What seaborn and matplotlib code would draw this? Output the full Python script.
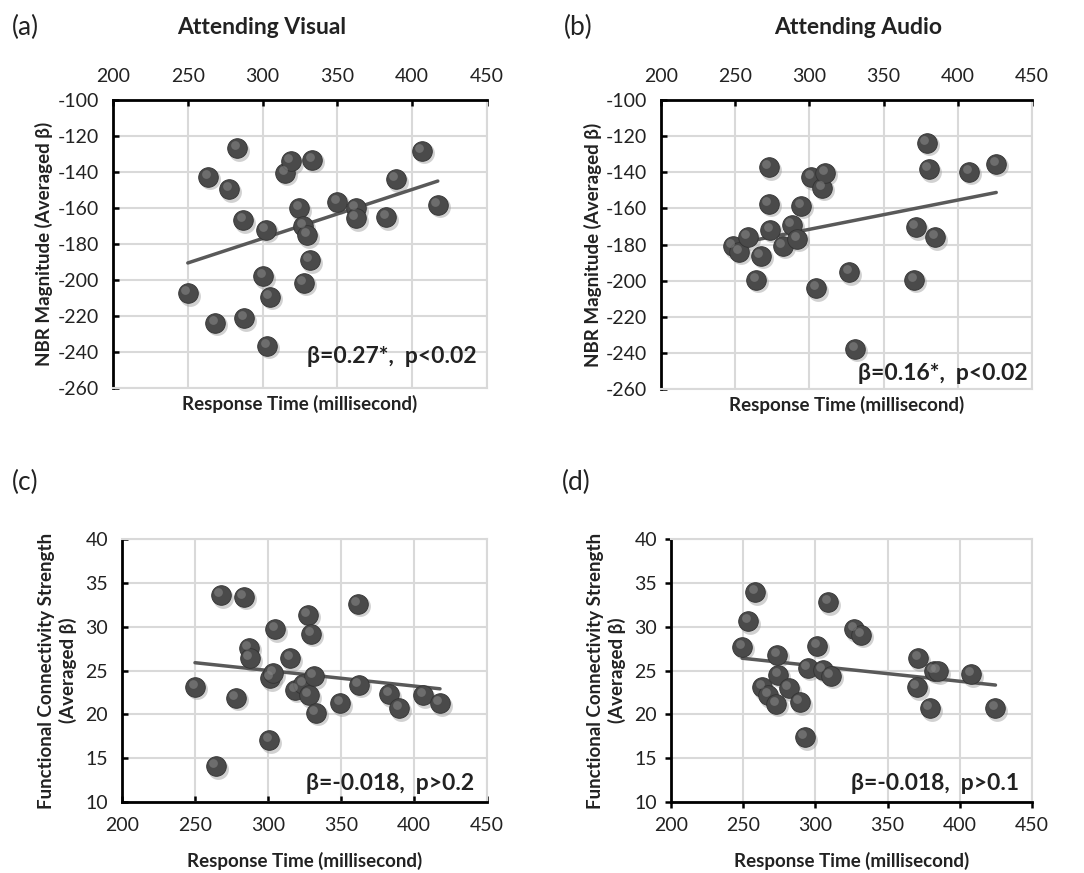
import numpy as np
import pandas as pd
import matplotlib
matplotlib.use("Agg")
import matplotlib.pyplot as plt
import matplotlib.transforms as mtransforms
import seaborn as sns

# ================================
# DATA
# ================================
rt_visual = [250, 263.6, 268.2, 277.6, 283.1, 287.1, 287.8, 300.4, 302, 303.1,
             304.9, 315.3, 318.7, 324.4, 327.1, 327.6, 330, 331.6, 333.1, 350,
             362.2, 362.2, 382.7, 388.9, 406.4, 417.1]
nbr_visual = [-207.4, -142.6, -223.7, -149.6, -126.7, -166.7, -221.3, -198, -172.2, -236.5,
              -209.3, -140.4, -134, -160, -169.8, -201.5, -175, -188.9, -133.3, -156.5,
              -160.2, -165.7, -165.2, -144, -128.3, -158.3]

rt_audio = [248.4, 252.7, 258.3, 264.2, 267.1, 272.7, 272.7, 273.6, 282.1, 288.1,
            291.9, 294.4, 301.2, 304.5, 308.8, 310.8, 326.8, 330.8, 370.6, 371.7,
            379.1, 380.5, 384.7, 407.7, 425.9]
nbr_audio = [-181.1, -184.0, -176.1, -199.5, -186.3, -137.2, -157.5, -171.9, -180.7, -169.1,
             -176.7, -158.6, -142.9, -204.1, -148.5, -140.2, -195.3, -237.7, -199.5, -170.4,
             -123.6, -138.3, -175.9, -139.6, -135.4]

rt_fc_visual = [250, 264.3, 267.7, 277.8, 283.5, 286.9, 287.4, 300.9, 301.4, 303.6,
                304.8, 315.4, 318.6, 324.0, 327.9, 327.2, 329.7, 331.3, 332.7, 349.5,
                361.4, 362.0, 383.0, 389.8, 406.4, 417.8]
fc_visual = [23.16, 14.1, 33.6, 21.9, 33.4, 27.6, 26.4, 17.06, 24.1, 24.7,
             29.7, 26.4, 22.8, 23.5, 22.2, 31.35, 29.2, 24.35, 20.2, 21.25,
             32.6, 23.35, 22.3, 20.7, 22.15, 21.25]

rt_fc_audio = [249.3, 253.5, 258.5, 263.1, 267.3, 273.0, 273.5, 274.2, 281.7, 289.1,
               292.5, 294.8, 301.2, 305.1, 309.0, 310.8, 326.9, 331.6, 370.2, 371.1,
               379.2, 382.1, 384.9, 408.1, 424.7]
fc_audio = [27.7, 30.6, 33.9, 23.1, 22.2, 21.2, 26.8, 24.5, 22.95, 21.4,
            17.4, 25.3, 27.8, 25.1, 32.8, 24.4, 29.7, 29.1, 23.1, 26.4,
            20.7, 25.0, 24.9, 24.6, 20.7]

panel_labels = ["(a)", "(b)", "(c)", "(d)"]
titles = ["Attending Visual", "Attending Audio", "", ""]
stats_text = ["\u03b2=0.27*,  p<0.02", "\u03b2=0.16*,  p<0.02",
              "\u03b2=-0.018,  p>0.2", "\u03b2=-0.018,  p>0.1"]
nbr_ylabel = "NBR Magnitude (Averaged \u03b2)"
fc_ylabel = "Functional Connectivity Strength\n(Averaged \u03b2)"
xlabel = "Response Time (millisecond)"
x_ticks = [200, 250, 300, 350, 400, 450]
nbr_ticks = [-100, -120, -140, -160, -180, -200, -220, -240, -260]
fc_ticks = [10, 15, 20, 25, 30, 35, 40]

# ================================
# STYLE
# ================================
sns.set_theme(style="white")
plt.rcParams["font.family"] = ["Lato", "DejaVu Sans"]
plt.rcParams["axes.unicode_minus"] = False

GRID = "#d9d9d9"
DOT = "#4a4a4a"
LINE = "#595959"
TXT = "#222222"

fig = plt.figure(figsize=(10.84, 8.73), dpi=100)

# axes boxes in pixels: left, top, right, bottom
boxes = [(113, 100, 487, 388), (661, 100, 1032, 389),
         (122, 539, 487, 802), (671, 539, 1032, 802)]
W, H = 1084, 873

panels = [
    (rt_visual, nbr_visual, nbr_ylabel, nbr_ticks, (-260, -100)),
    (rt_audio, nbr_audio, nbr_ylabel, nbr_ticks, (-260, -100)),
    (rt_fc_visual, fc_visual, fc_ylabel, fc_ticks, (10, 40)),
    (rt_fc_audio, fc_audio, fc_ylabel, fc_ticks, (10, 40)),
]

stat_pos = [(0.973, 0.111), (0.987, 0.055), (0.964, 0.072), (0.964, 0.072)]
ylab_x = [-0.16, -0.159, -0.123, -0.125]
label_pos = [(12, 27), (564, 27), (12, 482), (562, 482)]
title_pos = [(262, 28), (858, 28)]

for i, (xs, ys, ylab, yt, ylim) in enumerate(panels):
    l, t, r, b = boxes[i]
    ax = fig.add_axes([l / W, 1 - b / H, (r - l) / W, (b - t) / H])
    df = pd.DataFrame({"rt": xs, "val": ys})
    top = i < 2

    # sphere-like markers: soft shadow, body, highlight
    shadow = mtransforms.offset_copy(ax.transData, fig=fig, x=2, y=-2.5, units="dots")
    ax.scatter(df["rt"], df["val"], s=225, color="#9a9a9a", alpha=0.45,
               linewidths=0, transform=shadow, zorder=3)
    sns.scatterplot(data=df, x="rt", y="val", ax=ax, s=200, color=DOT,
                    edgecolor="#333333", linewidth=0.6, zorder=4, legend=False)
    hl = mtransforms.offset_copy(ax.transData, fig=fig, x=-2.5, y=3, units="dots")
    ax.scatter(df["rt"], df["val"], s=40, color="#8a8a8a", alpha=0.55,
               linewidths=0, transform=hl, zorder=5)

    sns.regplot(data=df, x="rt", y="val", ax=ax, scatter=False, ci=None,
                line_kws={"color": LINE, "lw": 2.5, "zorder": 3.5})

    ax.set_xlim(200, 450)
    ax.set_ylim(*ylim)
    ax.set_xticks(x_ticks)
    ax.set_yticks(yt)
    ax.grid(True, color=GRID, lw=1.5)
    ax.set_axisbelow(True)

    for s in ax.spines.values():
        s.set_color(GRID)
        s.set_linewidth(1.5)
        s.set_visible(True)
    ax.spines["left"].set_color("black")
    ax.spines["left"].set_linewidth(2)
    if top:
        ax.spines["top"].set_color("black")
        ax.spines["top"].set_linewidth(2)
        ax.xaxis.tick_top()
        ax.tick_params(axis="x", top=True, bottom=False, labeltop=True, labelbottom=False)
    else:
        ax.spines["bottom"].set_color("black")
        ax.spines["bottom"].set_linewidth(2)
        ax.tick_params(axis="x", top=False, bottom=True)

    direction = "out" if i == 3 else "in"
    base = 6.5 if i == 3 else 11
    ax.tick_params(axis="x", direction=direction, length=4.5, width=1.8, color="black",
                   labelsize=14, labelcolor=TXT, pad=base)
    ax.tick_params(axis="y", left=True, right=False, direction=direction, length=4.5,
                   width=1.8, color="black", labelsize=14, labelcolor=TXT,
                   pad=base - 1)

    ax.set_xlabel(xlabel, fontsize=13.5, fontweight="bold", color=TXT)
    ax.xaxis.set_label_position("bottom")
    ax.xaxis.set_label_coords(0.5, -0.024 if top else -0.19)
    ax.set_ylabel(ylab, fontsize=13.5, fontweight="bold", color=TXT, linespacing=1.25)
    ax.yaxis.set_label_coords(ylab_x[i], 0.5)

    ax.text(stat_pos[i][0], stat_pos[i][1], stats_text[i], transform=ax.transAxes,
            ha="right", va="center", fontsize=16.5, fontweight="bold", color=TXT)

    px, py = label_pos[i]
    fig.text(px / W, 1 - py / H, panel_labels[i], ha="left", va="center",
             fontsize=19, color=TXT)
    if titles[i]:
        tx, ty = title_pos[i]
        fig.text(tx / W, 1 - ty / H, titles[i], ha="center", va="center",
                 fontsize=16.5, fontweight="bold", color=TXT)

fig.savefig("out.png", dpi=100)
